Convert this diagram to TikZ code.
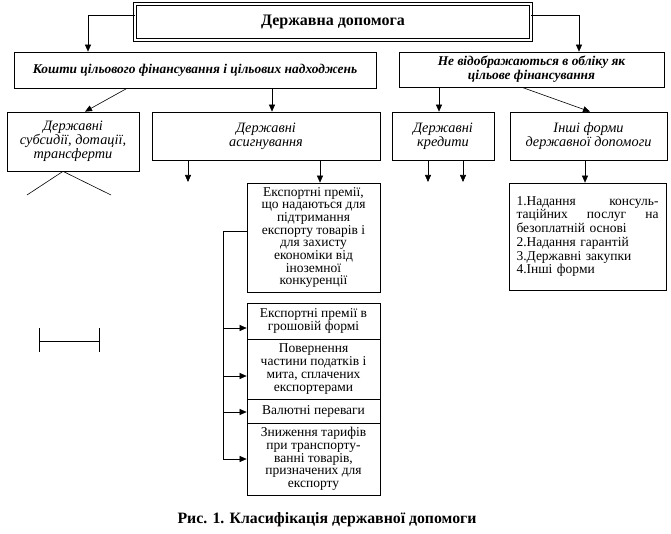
\documentclass[tikz,border=0pt]{standalone}
\usepackage{fontspec}
\setmainfont{Liberation Serif}
\usetikzlibrary{arrows.meta}
\begin{document}
\begin{tikzpicture}[x=1pt,y=-1pt,
  box/.style={draw, line width=0.7pt, inner sep=0pt, align=center},
  arr/.style={-{Triangle[length=7pt,width=6pt]}, line width=0.6pt},
  ln/.style={line width=0.6pt},
  ftitle/.style={font=\fontsize{16}{18}\selectfont\bfseries},
  ftwo/.style={font=\fontsize{13.4}{14}\selectfont\bfseries\itshape},
  fthree/.style={font=\fontsize{14.3}{14}\selectfont\itshape},
  fbody/.style={font=\fontsize{13.5}{12.7}\selectfont},
  fnum/.style={font=\fontsize{13.5}{13.7}\selectfont}]
\useasboundingbox (0,0) rectangle (671,534);

\node[box, ftitle, double, double distance=2.2pt, minimum width=396pt, minimum height=36pt] (top) at (333,22) {Державна допомога};

\node[box, ftwo, minimum width=362pt, minimum height=36pt] (kosh) at (195,70) {Кошти цільового фінансування і цільових надходжень};
\node[box, ftwo, minimum width=265pt, minimum height=35pt] (ne) at (531.5,69.5) {Не відображаються в обліку як\\цільове фінансування};

\node[box, fthree, minimum width=132pt, minimum height=59pt] (subs) at (73,141.5) {Державні\\субсидії, дотації,\\трансферти};
\node[box, fthree, minimum width=228pt, minimum height=48pt] (asyg) at (266,136) {Державні\\асигнування};
\node[box, fthree, minimum width=102pt, minimum height=48pt] (kred) at (443,136) {Державні\\кредити};
\node[box, fthree, minimum width=157pt, minimum height=48pt] (inshi) at (588.5,136) {Інші форми\\державної допомоги};

\node[box, fnum, minimum width=157pt, minimum height=107pt, text width=142pt, align=left] (num) at (587.5,236.5)
 {\makebox[142pt][l]{1.Надання\hfill консуль-}\\\makebox[142pt][l]{таційних\hfill послуг\hfill на}\\безоплатній основі\\2.Надання гарантій\\3.Державні закупки\\4.Інші форми};

\node[box, fbody, minimum width=133pt, minimum height=109pt] (exp) at (313.5,237.5)
 {Експортні премії,\\що надаються для\\підтримання\\експорту товарів і\\для захисту\\економіки від\\іноземної\\конкуренції};

\node[box, fbody, minimum width=133pt, minimum height=36pt] (s1) at (313.5,321) {Експортні премії в\\грошовій формі};
\node[box, fbody, minimum width=133pt, minimum height=60pt] (s2) at (313.5,369) {Повернення\\частини податків і\\мита, сплачених\\експортерами};
\node[box, fbody, minimum width=133pt, minimum height=24pt] (s3) at (313.5,411) {Валютні переваги};
\node[box, fbody, minimum width=133pt, minimum height=72pt] (s4) at (313.5,459) {Зниження тарифів\\при транспорту-\\ванні товарів,\\призначених для\\експорту};

\node[font=\fontsize{15.8}{17}\selectfont\bfseries] (cap) at (327,520) {Рис. 1. Класифікація державної допомоги};

% connectors
\draw[arr] (top.west |- 0,15) -| (kosh.north -| 88,0);
\draw[arr] (top.east |- 0,15) -| (ne.north -| 579,0);
\draw[arr] (kosh.south -| 127,0) -- (subs.north -| 85,0);
\draw[arr] (kosh.south -| 272,0) -- (asyg.north -| 272,0);
\draw[arr] (ne.south -| 439,0) -- (kred.north -| 439,0);
\draw[arr] (ne.south -| 522,0) -- (inshi.north -| 590,0);

\coordinate (d1) at (188,182);
\coordinate (d2) at (428,182);
\coordinate (d3) at (463,182);
\draw[arr] (asyg.south -| d1) -- (d1);
\draw[arr] (asyg.south -| 320,0) -- (exp.north -| 320,0);
\draw[arr] (kred.south -| d2) -- (d2);
\draw[arr] (kred.south -| d3) -- (d3);
\draw[arr] (inshi.south -| 585,0) -- (num.north -| 585,0);

% inverted V under subsidies
\coordinate (va) at (27,195);
\coordinate (vb) at (111,195);
\draw[ln] (va) -- (subs.south -| 63,0) -- (vb);

% bus on the left of the export boxes
\coordinate (bt) at (223,231);
\coordinate (bb) at (223,459);
\draw[ln] (exp.west |- bt) -- (bt) -- (bb);
\draw[arr] (bt |- 0,328) -- (s1.west |- 0,328);
\draw[arr] (bt |- 0,376) -- (s2.west |- 0,376);
\draw[arr] (bt |- 0,412) -- (s3.west |- 0,412);
\draw[arr] (bb) -- (s4.west |- bb);

% bracket
\coordinate (k1) at (39,341);
\coordinate (k2) at (99,341);
\draw[ln] (k1) -- (k2);
\draw[ln] ([yshift=13pt]k1) -- ([yshift=-11pt]k1);
\draw[ln] ([yshift=13pt]k2) -- ([yshift=-11pt]k2);
\end{tikzpicture}
\end{document}
